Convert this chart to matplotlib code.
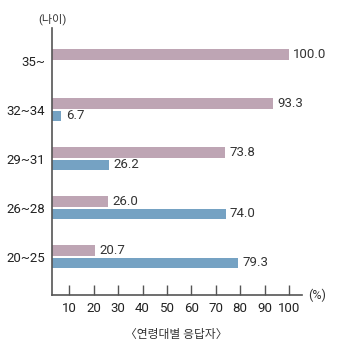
import numpy as np
import matplotlib.pyplot as plt

plt.rcParams['font.family'] = ['Roboto', 'Noto Sans CJK KR', 'DejaVu Sans']

groups = ["20~25", "26~28", "29~31", "32~34", "35~"]
purple_vals = [20.7, 26.0, 73.8, 93.3, 100.0]
blue_vals = [79.3, 74.0, 26.2, 6.7, None]
xticks = [10, 20, 30, 40, 50, 60, 70, 80, 90, 100]

purple = "#bea5b4"
blue = "#75a2c3"
txt = "#333333"

fig = plt.figure(figsize=(3.5, 3.53), dpi=100)
ax = fig.add_axes([0.1486, 0.1643, 0.862 - 0.1486, 0.9207 - 0.1643])

y = np.arange(len(groups))
h = 0.215
off = 0.127
for i in range(len(groups)):
    ax.barh(y[i] + off, purple_vals[i], height=h, left=0, color=purple)
    ax.text(purple_vals[i] + 1.8, y[i] + off, f"{purple_vals[i]:.1f}",
            va="center", ha="left", fontsize=9.5, color=txt)
    if blue_vals[i] is not None:
        ax.barh(y[i] - off, blue_vals[i], height=h, left=0, color=blue)
        ax.text(blue_vals[i] + 1.8, y[i] - off, f"{blue_vals[i]:.1f}",
                va="center", ha="left", fontsize=9.5, color=txt)

ax.set_xlim(2.9, 105.2)
ax.set_ylim(-0.785, 4.67)
ax.set_yticks(y)
ax.set_yticklabels(groups, fontsize=9.5, color="#222222")
ax.tick_params(axis="y", length=0, pad=5)
ax.set_xticks(xticks)
ax.set_xticklabels([str(v) for v in xticks], fontsize=9.5, color="#222222")
ax.tick_params(axis="x", direction="in", length=7, width=1, color="#555555", pad=5)

for s in ["top", "right"]:
    ax.spines[s].set_visible(False)
for s in ["left", "bottom"]:
    ax.spines[s].set_color("#555555")
    ax.spines[s].set_linewidth(1.2)

fig.text(52 / 350, 1 - 19 / 353, "(나이)", ha="center", va="center", fontsize=8, color=txt)
fig.text(317 / 350, 1 - 295 / 353, "(%)", ha="center", va="center", fontsize=9, color=txt)
fig.text(176 / 350, 1 - 334 / 353, "〈연령대별 응답자〉", ha="center", va="center", fontsize=8.5, color=txt)

fig.savefig("out.png", dpi=100)
